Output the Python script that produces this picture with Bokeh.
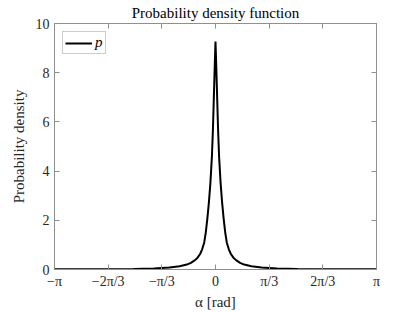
import math
from bokeh.plotting import figure
from bokeh.models import Range1d, FixedTicker, LinearAxis, Legend, LegendItem
from bokeh.embed import file_html
from bokeh.resources import INLINE

# Data
alpha = [-math.pi, -2.6, -2.1, -1.6, -1.2, -0.90, -0.70, -0.56, -0.48, -0.40, -0.35, -0.30,
         -0.26, -0.22, -0.19, -0.16, -0.13, -0.10, -0.07, -0.05, -0.035, -0.02, -0.01,
         0.0,
         0.01, 0.02, 0.035, 0.05, 0.07, 0.10, 0.13, 0.16, 0.19, 0.22, 0.26, 0.30,
         0.35, 0.40, 0.48, 0.56, 0.70, 0.90, 1.2, 1.6, 2.1, 2.6, math.pi]
density = [0.010, 0.011, 0.015, 0.025, 0.045, 0.08, 0.13, 0.20, 0.27, 0.38, 0.48, 0.63,
           0.82, 1.10, 1.50, 2.05, 2.70, 3.50, 4.60, 5.70, 6.80, 7.90, 8.60,
           9.27,
           8.60, 7.90, 6.80, 5.70, 4.60, 3.50, 2.70, 2.05, 1.50, 1.10, 0.82, 0.63,
           0.48, 0.38, 0.27, 0.20, 0.13, 0.08, 0.045, 0.025, 0.015, 0.011, 0.010]

x_ticks = [-math.pi, -2 * math.pi / 3, -math.pi / 3, 0.0, math.pi / 3, 2 * math.pi / 3, math.pi]
x_tick_labels = ["\u2212\u03c0", "\u22122\u03c0/3", "\u2212\u03c0/3", "0", "\u03c0/3", "2\u03c0/3", "\u03c0"]
y_ticks = [0, 2, 4, 6, 8, 10]

SERIF = "Liberation Serif"
AX = "#8f8f8f"
TXT = "#262626"

p = figure(width=415, height=312, output_backend="svg", toolbar_location=None,
           x_range=Range1d(-math.pi, math.pi), y_range=Range1d(0, 10),
           min_border_left=54, min_border_right=39, min_border_top=23, min_border_bottom=42)
p.title.text = "Probability density function"
p.title.align = "center"
p.title.text_font = SERIF
p.title.text_font_size = "15px"
p.title.text_font_style = "normal"
p.title.text_color = "#000000"
p.title.standoff = 5
p.title.offset = 0

p.xgrid.visible = False
p.ygrid.visible = False
p.outline_line_color = None
p.background_fill_color = "white"
p.border_fill_color = "white"

def style_axis(ax, show_labels):
    ax.axis_line_color = AX
    ax.major_tick_line_color = AX
    ax.minor_tick_line_color = None
    ax.major_tick_in = 5
    ax.major_tick_out = 0
    ax.major_label_text_font = SERIF
    ax.major_label_text_font_size = "14px"
    ax.major_label_text_color = TXT
    ax.axis_label_text_font = SERIF
    ax.axis_label_text_font_size = "15px"
    ax.axis_label_text_font_style = "normal"
    ax.axis_label_text_color = TXT
    if not show_labels:
        ax.major_label_text_font_size = "0px"
        ax.major_label_text_color = None

xa = p.xaxis[0]
xa.ticker = FixedTicker(ticks=x_ticks)
xa.major_label_overrides = {t: l for t, l in zip(x_ticks, x_tick_labels)}
xa.axis_label = "\u03b1 [rad]"
xa.major_label_standoff = 4
xa.axis_label_standoff = 2
style_axis(xa, True)

ya = p.yaxis[0]
ya.ticker = FixedTicker(ticks=y_ticks)
ya.axis_label = "Probability density"
ya.major_label_standoff = 5
ya.axis_label_standoff = 6
style_axis(ya, True)

top = LinearAxis(ticker=FixedTicker(ticks=x_ticks))
style_axis(top, False)
top.major_label_standoff = 0
p.add_layout(top, "above")
right = LinearAxis(ticker=FixedTicker(ticks=y_ticks))
style_axis(right, False)
right.major_label_standoff = 0
p.add_layout(right, "right")

r = p.line(alpha, density, line_color="black", line_width=2)

leg = Legend(items=[LegendItem(label="p", renderers=[r])], location="top_left")
leg.label_text_font = SERIF
leg.label_text_font_style = "italic"
leg.label_text_font_size = "15px"
leg.label_text_color = "#000000"
leg.border_line_color = "#9a9a9a"
leg.border_line_width = 1
leg.background_fill_color = "white"
leg.background_fill_alpha = 1
leg.margin = 8
leg.padding = 2
leg.spacing = 0
leg.label_standoff = 3
leg.glyph_width = 27
leg.glyph_height = 14
leg.label_height = 14
leg.label_width = 8
p.add_layout(leg, "center")

open("out.html", "w").write(file_html(p, INLINE))
